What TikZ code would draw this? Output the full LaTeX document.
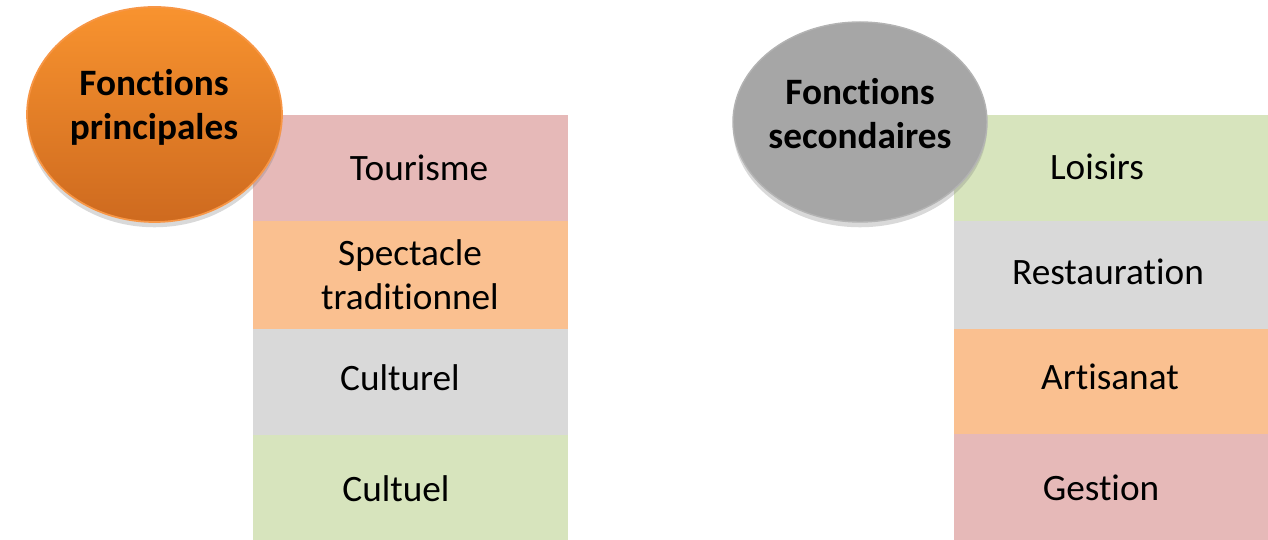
\documentclass[tikz,border=0pt]{standalone}
\usepackage{fontspec}
\setmainfont{Carlito}[Ligatures=NoCommon]
\usepackage{tikz}
\usetikzlibrary{shapes.geometric,shadows}

\definecolor{rose}{HTML}{E6B9B8}
\definecolor{peche}{HTML}{FAC090}
\definecolor{gris}{HTML}{D9D9D9}
\definecolor{vert}{HTML}{D7E4BD}
\definecolor{orhaut}{HTML}{F8932F}
\definecolor{orbas}{HTML}{CE6A1F}
\definecolor{orbord}{HTML}{F79646}
\definecolor{grisfonce}{HTML}{A6A6A6}

\tikzset{
	cadre/.style={font=\fontsize{21.2}{25}\selectfont, align=center},
	titre/.style={font=\fontsize{21.2}{25}\selectfont\bfseries, align=center},
	bulle/.style={ellipse, inner sep=0pt,
		drop shadow={opacity=0.3, shadow xshift=0pt, shadow yshift=-3pt}}
}

\begin{document}
\begin{tikzpicture}
\useasboundingbox (0,0) rectangle (25.36,10.8);

% colonne de gauche
\fill[rose] (5.06,8.5) rectangle (11.36,6.38);
\fill[peche] (5.06,6.38) rectangle (11.36,4.22);
\fill[gris] (5.06,4.22) rectangle (11.36,2.1);
\fill[vert] (5.06,2.1) rectangle (11.36,0);
\node[cadre] (tourisme) at (8.38, 7.44) {Tourisme};
\node[cadre] (spectacle) at (8.2, 5.3) {Spectacle\\traditionnel};
\node[cadre] (culturel) at (8.0, 3.24) {Culturel};
\node[cadre] (cultuel) at (7.92, 1.02) {Cultuel};

% colonne de droite
\fill[vert] (19.08,8.5) rectangle (25.36,6.38);
\fill[gris] (19.08,6.38) rectangle (25.36,4.22);
\fill[peche] (19.08,4.22) rectangle (25.36,2.12);
\fill[rose] (19.08,2.12) rectangle (25.36,0);
\node[cadre] (loisirs) at (21.94, 7.46) {Loisirs};
\node[cadre] (restauration) at (22.16, 5.36) {Restauration};
\node[cadre] (artisanat) at (22.2, 3.26) {Artisanat};
\node[cadre] (gestion) at (22.02, 1.04) {Gestion};

% bulles
\node[bulle, minimum width=5.1cm, minimum height=4.3cm, top color=orhaut, bottom color=orbas,
	draw=orbord, line width=1pt] (bulleprin) at (3.09,8.51) {};
\node[titre] (principales) at (3.08, 8.65) {Fonctions\\principales};

\node[bulle, minimum width=5.08cm, minimum height=4cm, fill=grisfonce,
	draw=grisfonce!85!white, line width=0.8pt] (bullesec) at (17.2,8.36) {};
\node[titre] (secondaires) at (17.2, 8.52) {Fonctions\\secondaires};
\end{tikzpicture}
\end{document}
